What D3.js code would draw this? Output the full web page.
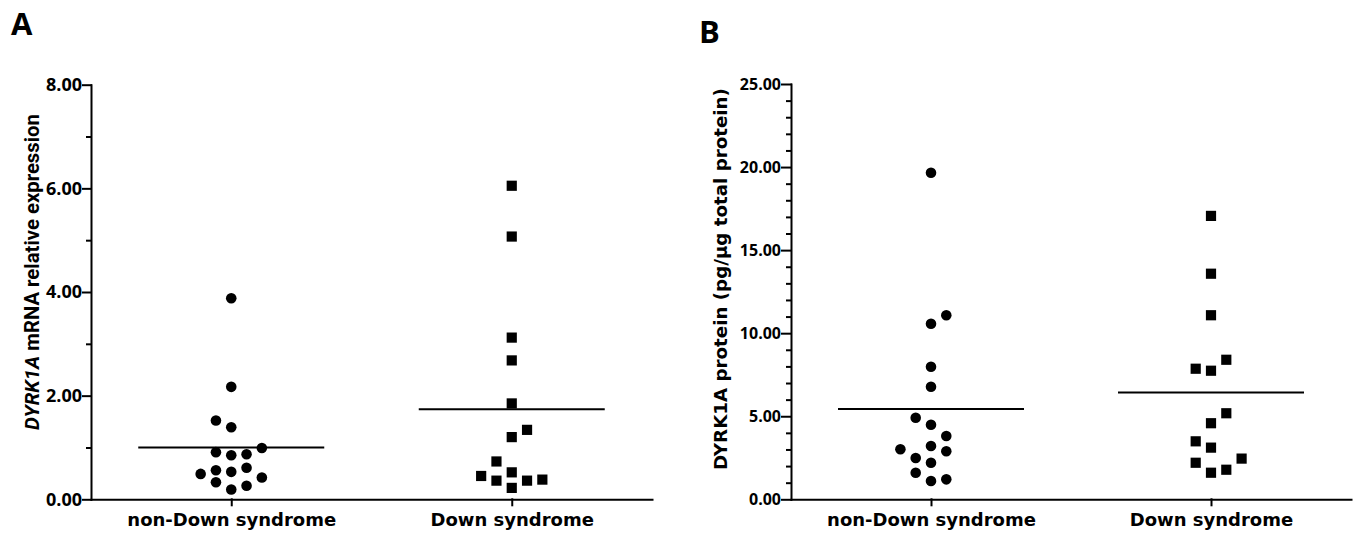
<!DOCTYPE html>
<html>
<head>
<meta charset="utf-8">
<script src="https://cdn.jsdelivr.net/npm/d3@7"></script>
<style>
  body { margin: 0; background: #fff; }
  svg { display: block; }
</style>
</head>
<body>
<svg width="1357" height="535"></svg>
<script>
(function() {

  var groups = ["non-Down syndrome", "Down syndrome"];

  // panel A, DYRK1A mRNA relative expression (points in entry order)
  var mrnaNonDown = [3.88, 2.17, 1.39, 0.85, 0.87, 0.91, 0.99, 1.52, 0.53, 0.61, 0.56, 0.19, 0.26, 0.33, 0.42, 0.49];
  var mrnaDown = [6.05, 5.07, 3.12, 2.68, 1.85, 1.20, 1.34, 0.22, 0.52, 0.73, 0.36, 0.36, 0.38, 0.45];
  var mrnaTicks = [0, 2, 4, 6, 8];
  var mrnaMinor = [1, 3, 5, 7];

  // panel B, DYRK1A protein pg/ug total protein
  var proteinNonDown = [19.66, 10.57, 7.98, 6.78, 4.49, 3.21, 2.20, 1.10, 11.08, 4.91, 3.81, 2.49, 2.89, 3.01, 1.20, 1.60];
  var proteinDown = [17.06, 13.58, 11.08, 7.74, 4.58, 3.11, 1.60, 5.18, 3.49, 8.40, 7.86, 1.78, 2.20, 2.45];
  var proteinTicks = [0, 5, 10, 15, 20, 25];
  var proteinMinor = [1, 2, 3, 4, 6, 7, 8, 9, 11, 12, 13, 14, 16, 17, 18, 19, 21, 22, 23, 24];

  var svg = d3.select("svg");
  svg.append("rect").attr("width", 1357).attr("height", 535).attr("fill", "#fff");

  var baseY = 499.3,
      step = 15.3,     // horizontal spacing of stacked points
      minGap = 11.6,   // closest two points may sit in one column
      halfMean = 93,
      tickFamily = "'Open Sans', Lato, sans-serif",
      wideFamily = "'DejaVu Sans', Verdana, sans-serif";

  // prism-like column scatter: centre if free, otherwise step out, alternating sides
  function columnScatter(values, y) {
    var placed = [], pref = 1;
    return values.map(function(v) {
      var py = y(v);
      function free(s) {
        return placed.every(function(p) { return p.slot !== s || Math.abs(p.y - py) >= minGap; });
      }
      var slot = 0;
      if (!free(0)) {
        for (var m = 1; m < 10; m++) {
          if (free(pref * m)) { slot = pref * m; break; }
          if (free(-pref * m)) { slot = -pref * m; break; }
        }
        pref = slot > 0 ? -1 : 1;
      }
      placed.push({slot: slot, y: py});
      return {value: v, y: py, dx: slot * step};
    });
  }

  // shrink or grow a text so it covers the given length
  function fitText(sel, length) {
    var size = parseFloat(sel.style("font-size"));
    var w = sel.node().getComputedTextLength();
    sel.style("font-size", (size * length / w).toFixed(2) + "px");
  }

  function panel(cfg) {
    var g = svg.append("g");

    var x = d3.scalePoint()
        .domain(groups)
        .range([cfg.left, cfg.right])
        .padding(0.5);

    var y = d3.scaleLinear()
        .domain([0, cfg.max])
        .range([baseY, cfg.top]);

    // minor ticks
    g.append("g")
        .attr("transform", "translate(" + cfg.left + ",0)")
        .call(d3.axisLeft(y).tickValues(cfg.minor).tickSize(4).tickFormat(""))
        .call(function(a) { a.select(".domain").remove(); });

    var yAxis = g.append("g")
        .attr("transform", "translate(" + cfg.left + ",0)")
        .call(d3.axisLeft(y)
          .tickValues(cfg.ticks)
          .tickSize(cfg.tickLen)
          .tickSizeOuter(0)
          .tickPadding(1)
          .tickFormat(d3.format(".2f")));
    yAxis.selectAll("text")
        .style("font-family", tickFamily)
        .style("font-weight", "bold")
        .style("font-size", cfg.tickFont + "px")
        .attr("fill", "#000");

    var xAxis = g.append("g")
        .attr("transform", "translate(0," + baseY + ")")
        .call(d3.axisBottom(x).tickSize(6).tickSizeOuter(0).tickPadding(8));
    xAxis.selectAll("text")
        .style("font-family", wideFamily)
        .style("font-weight", "bold")
        .style("font-size", "18px")
        .attr("fill", "#000");

    g.selectAll(".domain, .tick line")
        .attr("stroke", "#000")
        .attr("stroke-width", 2)
        .attr("stroke-linecap", "square");

    var sets = [cfg.data[0], cfg.data[1]];
    var shapes = [d3.symbolCircle, d3.symbolSquare];
    var sizes = [88, 104];

    sets.forEach(function(values, i) {
      var cx = x(groups[i]);
      var pts = columnScatter(values, y);

      g.append("g").selectAll("path")
          .data(pts)
        .enter().append("path")
          .attr("d", d3.symbol().type(shapes[i]).size(sizes[i]))
          .attr("transform", function(d) { return "translate(" + (cx + d.dx) + "," + d.y + ")"; })
          .attr("fill", "#000");

      var mean = d3.mean(values);
      g.append("line")
          .attr("x1", cx - halfMean)
          .attr("x2", cx + halfMean)
          .attr("y1", y(mean))
          .attr("y2", y(mean))
          .attr("stroke", "#000")
          .attr("stroke-width", 2);
    });

    // panel letter
    g.append("text")
        .attr("x", cfg.letterX)
        .attr("y", cfg.letterY)
        .style("font-family", "'Liberation Sans Narrow', 'Open Sans', sans-serif")
        .style("font-weight", "bold")
        .style("font-size", "31px")
        .text(cfg.letter);

    return g;
  }

  var gA = panel({
    left: 91, right: 652, top: 84.7, max: 8,
    ticks: mrnaTicks, minor: mrnaMinor, tickLen: 8, tickFont: 18,
    data: [mrnaNonDown, mrnaDown],
    letter: "A", letterX: 11, letterY: 35
  });

  var titleA = gA.append("text")
      .attr("transform", "translate(39,272) rotate(-90)")
      .attr("text-anchor", "middle")
      .style("font-family", "Roboto, 'Open Sans', sans-serif")
      .style("font-weight", "bold")
      .style("font-size", "18px");
  titleA.append("tspan").style("font-style", "italic").text("DYRK1A");
  titleA.append("tspan").text(" mRNA relative expression");
  fitText(titleA, 316);

  var gB = panel({
    left: 791, right: 1351, top: 84, max: 25,
    ticks: proteinTicks, minor: proteinMinor, tickLen: 9, tickFont: 16,
    data: [proteinNonDown, proteinDown],
    letter: "B", letterX: 699, letterY: 43
  });

  var titleB = gB.append("text")
      .attr("transform", "translate(727,279) rotate(-90)")
      .attr("text-anchor", "middle")
      .style("font-family", wideFamily)
      .style("font-weight", "bold")
      .style("font-size", "18px")
      .text("DYRK1A protein (pg/\u03bcg total protein)");
  fitText(titleB, 382);

})();
</script>
</body>
</html>
